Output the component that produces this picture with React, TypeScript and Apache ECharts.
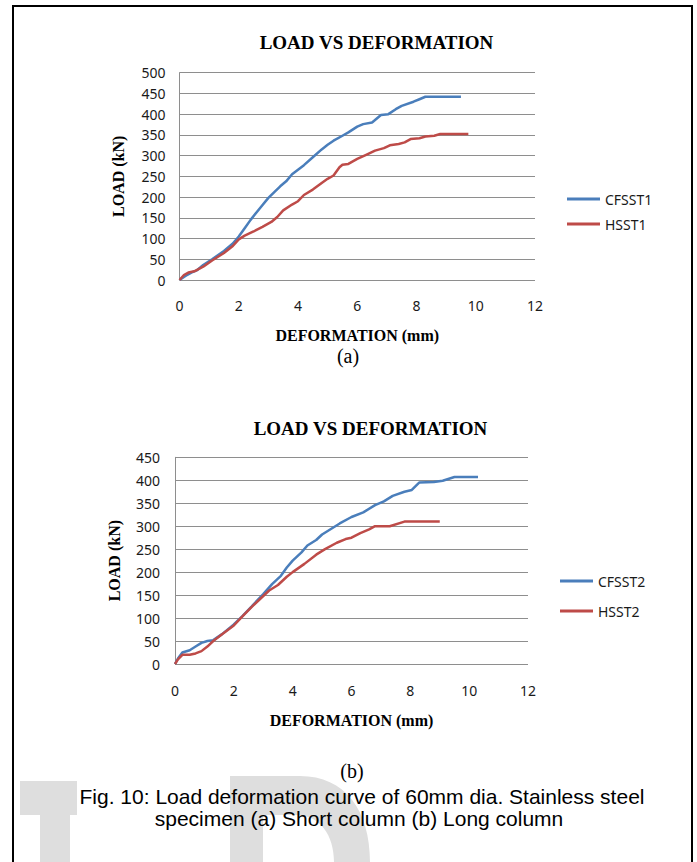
import React, { useEffect, useRef } from "react";
import * as echarts from "echarts";

const CHART_TITLE = "LOAD VS DEFORMATION";
const X_NAME = "DEFORMATION (mm)";
const Y_NAME = "LOAD (kN)";
const SUB_A = "(a)";
const SUB_B = "(b)";
const CAPTION_1 = "Fig. 10: Load deformation curve of 60mm dia. Stainless steel";
const CAPTION_2 = "specimen (a) Short column (b) Long column";

const NAMES_A = ["CFSST1", "HSST1"];
const NAMES_B = ["CFSST2", "HSST2"];

// [deformation (mm), load (kN)]
const CFSST1 = [
  [0, 0], [0.2, 10], [0.4, 18], [0.6, 24], [0.8, 36], [1.1, 50], [1.5, 70], [1.8, 88],
  [2.0, 105], [2.2, 125], [2.4, 145], [2.7, 172], [3.0, 198], [3.2, 212], [3.4, 226],
  [3.6, 238], [3.8, 255], [4.0, 266], [4.2, 277], [4.5, 296], [4.8, 315], [5.0, 326],
  [5.2, 336], [5.5, 348], [5.7, 356], [6.0, 370], [6.2, 376], [6.5, 380], [6.8, 398],
  [7.05, 400], [7.3, 412], [7.5, 420], [7.9, 430], [8.1, 436], [8.3, 442], [9.5, 442],
];
const HSST1 = [
  [0, 0], [0.15, 12], [0.3, 18], [0.5, 21], [0.8, 32], [1.1, 47], [1.5, 65], [1.8, 82],
  [2.0, 98], [2.2, 107], [2.5, 117], [2.8, 128], [3.1, 140], [3.3, 152], [3.5, 168],
  [3.8, 182], [4.0, 190], [4.2, 205], [4.5, 218], [4.8, 234], [5.0, 244], [5.2, 252],
  [5.4, 272], [5.5, 278], [5.7, 280], [6.0, 292], [6.3, 302], [6.6, 312], [6.9, 318],
  [7.1, 325], [7.4, 328], [7.6, 332], [7.8, 340], [8.1, 342], [8.3, 346], [8.6, 348],
  [8.8, 352], [9.75, 352],
];
const CFSST2 = [
  [0, 0], [0.1, 12], [0.25, 25], [0.5, 30], [0.7, 38], [0.9, 46], [1.1, 50], [1.3, 52],
  [1.6, 65], [2.0, 86], [2.3, 105], [2.6, 125], [3.0, 152], [3.3, 174], [3.6, 192],
  [3.8, 210], [4.0, 225], [4.3, 243], [4.5, 258], [4.8, 270], [5.0, 282], [5.3, 294],
  [5.6, 306], [6.0, 320], [6.4, 330], [6.8, 346], [7.1, 354], [7.4, 366], [7.8, 375],
  [8.05, 379], [8.3, 395], [8.8, 396], [9.1, 399], [9.5, 407], [10.3, 407],
];
const HSST2 = [
  [0, 0], [0.1, 10], [0.25, 20], [0.5, 20], [0.7, 23], [0.9, 28], [1.1, 38], [1.3, 50],
  [1.6, 65], [2.0, 84], [2.3, 104], [2.6, 124], [3.0, 148], [3.2, 160], [3.5, 172],
  [3.8, 190], [4.0, 200], [4.4, 218], [4.8, 238], [5.1, 250], [5.5, 264], [5.8, 272],
  [6.0, 275], [6.3, 285], [6.6, 293], [6.8, 300], [7.3, 300], [7.8, 310], [8.1, 310],
  [9.0, 310],
];

const X_MAX = 12;
const X_STEP = 2;
const Y_MAX_A = 500;
const Y_MAX_B = 450;
const Y_STEP = 50;

const BLUE = "#4a7ebb";
const RED = "#be4b48";
const GRID_COLOR = "#8e8e8e";
const WM_COLOR = "#dedede";

const WM_D =
  "M230 776 L300 776 C345 776 370 810 370 862 L334 862 C334 835 320 815 296 815 L263 815 L263 862 L230 862 Z";

function makeAxes(gridIndex: number, yMax: number, xNameGap: number, xLabelMargin: number, yLabelMargin: number, yNameGap: number) {
  const xAxis = {
    type: "value",
    gridIndex,
    min: 0,
    max: X_MAX,
    interval: X_STEP,
    axisLine: { show: false },
    axisTick: { show: false },
    splitLine: { show: false },
    axisLabel: { fontSize: 14, fontFamily: "Noto Sans", color: "#1a1a1a", margin: xLabelMargin },
    name: X_NAME,
    nameLocation: "middle",
    nameGap: xNameGap,
    nameTextStyle: { fontFamily: "Liberation Serif", fontWeight: "bold", fontSize: 16, color: "#000" },
  };
  const yAxis = {
    type: "value",
    gridIndex,
    min: 0,
    max: yMax,
    interval: Y_STEP,
    axisLine: { show: true, lineStyle: { color: GRID_COLOR, width: 1 } },
    axisTick: { show: false },
    splitLine: { show: true, lineStyle: { color: GRID_COLOR, width: 1 } },
    axisLabel: { fontSize: 14, fontFamily: "Noto Sans", color: "#1a1a1a", margin: yLabelMargin },
    name: Y_NAME,
    nameLocation: "middle",
    nameRotate: 90,
    nameGap: yNameGap,
    nameTextStyle: { fontFamily: "Liberation Serif", fontWeight: "bold", fontSize: 16, color: "#000" },
  };
  return { xAxis, yAxis };
}

export default function App() {
  const ref = useRef<HTMLDivElement>(null);
  useEffect(() => {
    if (!ref.current) return;
    echarts.graphic.registerShape("wmD", echarts.graphic.extendPath(WM_D, {}) as any);
    const chart = echarts.init(ref.current, undefined, { renderer: "svg" });
    const a = makeAxes(0, Y_MAX_A, 47, 18, 14, 53);
    const b = makeAxes(1, Y_MAX_B, 48, 19, 15, 53);
    const lineSeries = (name: string, data: number[][], color: string, idx: number) => ({
      type: "line",
      name,
      data,
      xAxisIndex: idx,
      yAxisIndex: idx,
      showSymbol: false,
      symbol: "none",
      lineStyle: { color, width: 2.5 },
      itemStyle: { color },
    });
    const legendText = { fontFamily: "Noto Sans", fontSize: 14, color: "#1a1a1a", lineHeight: 16 };
    chart.setOption({
      animation: false,
      backgroundColor: "#fff",
      grid: [
        { left: 179.5, top: 72.7, width: 355.5, height: 207.3 },
        { left: 175, top: 457.3, width: 353, height: 206.7 },
      ],
      xAxis: [a.xAxis, b.xAxis],
      yAxis: [a.yAxis, b.yAxis],
      legend: [
        {
          data: NAMES_A,
          orient: "vertical",
          left: 567,
          top: 191,
          padding: 0,
          icon: "rect",
          itemWidth: 33,
          itemHeight: 3,
          itemGap: 9,
          textStyle: legendText,
        },
        {
          data: NAMES_B,
          orient: "vertical",
          left: 560,
          top: 573,
          padding: 0,
          icon: "rect",
          itemWidth: 33,
          itemHeight: 3,
          itemGap: 14,
          textStyle: legendText,
        },
      ],
      series: [
        lineSeries(NAMES_A[0], CFSST1, BLUE, 0),
        lineSeries(NAMES_A[1], HSST1, RED, 0),
        lineSeries(NAMES_B[0], CFSST2, BLUE, 1),
        lineSeries(NAMES_B[1], HSST2, RED, 1),
      ],
      graphic: [
        { type: "rect", z: 0, shape: { x: 20, y: 781, width: 57, height: 34 }, style: { fill: WM_COLOR } },
        { type: "rect", z: 0, shape: { x: 40, y: 815, width: 30, height: 47 }, style: { fill: WM_COLOR } },
        { type: "wmD", z: 0, x: 0, y: 0, style: { fill: WM_COLOR } },
        {
          type: "rect",
          z: 1,
          shape: { x: 13, y: 6, width: 679, height: 900 },
          style: { fill: "none", stroke: "#000", lineWidth: 2 },
        },
        {
          type: "text", z: 10, x: 376.5, y: 42,
          style: { text: CHART_TITLE, fontFamily: "Liberation Serif", fontWeight: "bold", fontSize: 19, fill: "#000", textAlign: "center", textVerticalAlign: "middle" },
        },
        {
          type: "text", z: 10, x: 370.5, y: 428,
          style: { text: CHART_TITLE, fontFamily: "Liberation Serif", fontWeight: "bold", fontSize: 19, fill: "#000", textAlign: "center", textVerticalAlign: "middle" },
        },
        {
          type: "text", z: 10, x: 348, y: 356,
          style: { text: SUB_A, fontFamily: "Liberation Serif", fontSize: 20, fill: "#000", textAlign: "center", textVerticalAlign: "middle" },
        },
        {
          type: "text", z: 10, x: 352, y: 771,
          style: { text: SUB_B, fontFamily: "Liberation Serif", fontSize: 20, fill: "#000", textAlign: "center", textVerticalAlign: "middle" },
        },
        {
          type: "text", z: 10, x: 362, y: 796,
          style: { text: CAPTION_1, fontFamily: "Liberation Sans", fontSize: 21, fill: "#000", textAlign: "center", textVerticalAlign: "middle" },
        },
        {
          type: "text", z: 10, x: 359, y: 818,
          style: { text: CAPTION_2, fontFamily: "Liberation Sans", fontSize: 21, fill: "#000", textAlign: "center", textVerticalAlign: "middle" },
        },
      ],
    });
    return () => chart.dispose();
  }, []);
  return <div ref={ref} style={{ position: "absolute", left: 0, top: 0, width: 697, height: 862 }} />;
}
